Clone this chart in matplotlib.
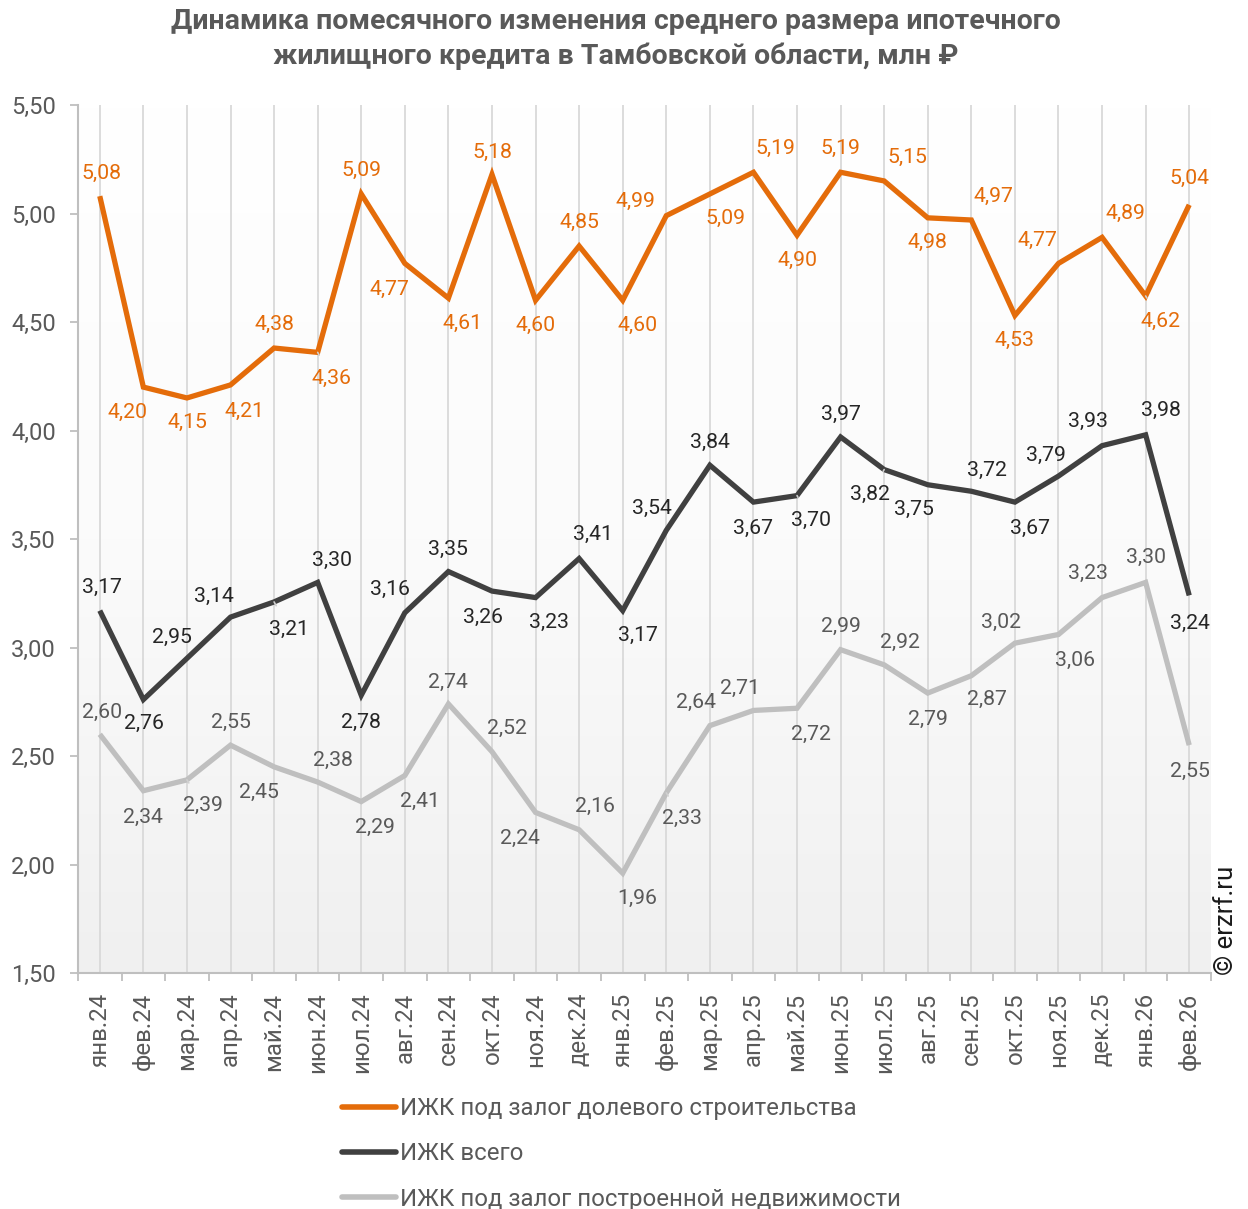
import matplotlib
matplotlib.use("Agg")
import matplotlib.pyplot as plt
import numpy as np
from matplotlib.colors import LinearSegmentedColormap

plt.rcParams['font.family'] = ['Roboto', 'DejaVu Sans']

months = ["янв.24", "фев.24", "мар.24", "апр.24", "май.24", "июн.24", "июл.24", "авг.24",
          "сен.24", "окт.24", "ноя.24", "дек.24", "янв.25", "фев.25", "мар.25", "апр.25",
          "май.25", "июн.25", "июл.25", "авг.25", "сен.25", "окт.25", "ноя.25", "дек.25",
          "янв.26", "фев.26"]

shared = [5.08, 4.20, 4.15, 4.21, 4.38, 4.36, 5.09, 4.77, 4.61, 5.18, 4.60, 4.85, 4.60,
          4.99, 5.09, 5.19, 4.90, 5.19, 5.15, 4.98, 4.97, 4.53, 4.77, 4.89, 4.62, 5.04]
total = [3.17, 2.76, 2.95, 3.14, 3.21, 3.30, 2.78, 3.16, 3.35, 3.26, 3.23, 3.41, 3.17,
         3.54, 3.84, 3.67, 3.70, 3.97, 3.82, 3.75, 3.72, 3.67, 3.79, 3.93, 3.98, 3.24]
built = [2.60, 2.34, 2.39, 2.55, 2.45, 2.38, 2.29, 2.41, 2.74, 2.52, 2.24, 2.16, 1.96,
         2.33, 2.64, 2.71, 2.72, 2.99, 2.92, 2.79, 2.87, 3.02, 3.06, 3.23, 3.30, 2.55]

names = ["ИЖК под залог долевого строительства", "ИЖК всего",
         "ИЖК под залог построенной недвижимости"]
yticks = [1.5, 2.0, 2.5, 3.0, 3.5, 4.0, 4.5, 5.0, 5.5]

# label offsets in pixels (dx right, dy down) and leader flags -- styling only
off_shared = [(2, -23), (-16, 25), (0, 24), (14, 26), (0, -24), (14, 26), (0, -24), (-15, 26),
              (14, 25), (0, -22), (0, 25), (0, -24), (15, 25), (-31, -14), (16, 24), (22, -24),
              (0, 25), (0, -24), (23, -24), (0, 25), (22, -24), (0, 25), (-21, -23), (23, -24),
              (15, 25), (0, -26)]
off_total = [(2, -23), (1, 24), (-15, -21), (-17, -21), (15, 27), (14, -22), (0, 27), (-15, -23),
             (0, -22), (-9, 26), (13, 25), (14, -24), (15, 25), (-14, -22), (0, -23), (0, 26),
             (14, 25), (0, -23), (-14, 25), (-14, 25), (16, -21), (15, 26), (-13, -21), (-14, -24),
             (15, -24), (1, 28)]
off_built = [(2, -22), (0, 27), (16, 26), (0, -23), (-15, 26), (15, -22), (14, 26), (15, 26),
             (0, -22), (15, -23), (-16, 26), (16, -23), (15, 25), (16, 26), (-14, -23), (-14, -22),
             (14, 26), (0, -23), (16, -22), (0, 26), (16, 24), (-14, -21), (17, 26), (-14, -24),
             (0, -25), (1, 26)]
lead_shared = {5, 24}
lead_total = {4, 16, 18}
lead_built = {2, 13}

c_orange = "#E46C0A"
c_dark = "#404040"
c_gray = "#BFBFBF"
txt_gray = "#595959"

fig = plt.figure(figsize=(12.48, 12.09), dpi=100)
ax = fig.add_axes([78 / 1248, 1 - 973 / 1209, (1211 - 78) / 1248, (973 - 105) / 1209])

n = len(months)
x = np.arange(n)
ax.set_xlim(-0.5, n - 0.5)
ax.set_ylim(1.5, 5.5)

# background gradient: white at top, light gray at bottom
cmap = LinearSegmentedColormap.from_list("bg", ["#ffffff", "#fbfbfb", "#f0f0f0"])
grad = np.linspace(0, 1, 256).reshape(-1, 1)
ax.imshow(grad, extent=[-0.5, n - 0.5, 1.5, 5.5], aspect='auto', cmap=cmap,
          vmin=0, vmax=1, zorder=0, origin='upper')

for xi in x:
    ax.axvline(xi, color="#d9d9d9", lw=1.3, zorder=1)

series = [(shared, c_orange, c_orange, off_shared, lead_shared),
          (total, c_dark, "#262626", off_total, lead_total),
          (built, c_gray, txt_gray, off_built, lead_built)]

for (vals, col, tcol, offs, leads), name in zip(series, names):
    ax.plot(x, vals, color=col, lw=3.8, solid_joinstyle='miter', zorder=3, label=name,
            solid_capstyle='butt')
    for i, v in enumerate(vals):
        dx, dy = offs[i]
        ap = None
        if i in leads:
            ap = dict(arrowstyle='-', color="#d0d0d0", lw=1.2, shrinkA=9, shrinkB=0)
        ax.annotate(f"{v:.2f}".replace(".", ","), xy=(i, v), xytext=(dx, -dy),
                    textcoords='offset pixels', ha='center', va='center',
                    fontsize=15.3, color=tcol, zorder=4, arrowprops=ap)

ax.set_yticks(yticks)
ax.set_yticklabels([f"{t:.2f}".replace(".", ",") for t in yticks], fontsize=17, color=txt_gray)
ax.set_xticks(x)
ax.set_xticklabels(months, rotation=90, fontsize=17.3, color=txt_gray, va='top')
ax.set_xticks(np.arange(-0.5, n, 1), minor=True)
ax.tick_params(axis='x', which='major', length=0, pad=14)
ax.tick_params(axis='x', which='minor', length=6, color="#bfbfbf", width=1.3)
ax.tick_params(axis='y', length=6, color="#bfbfbf", width=1.3, pad=10)

for s in ['top', 'right']:
    ax.spines[s].set_visible(False)
for s in ['left', 'bottom']:
    ax.spines[s].set_color("#bfbfbf")
    ax.spines[s].set_linewidth(1.5)

fig.text(616 / 1248, 1 - 39 / 1209,
         "Динамика помесячного изменения среднего размера ипотечного\n"
         "жилищного кредита в Тамбовской области, млн ₽",
         ha='center', va='center', fontsize=20.5, fontweight='bold', color=txt_gray,
         linespacing=1.32)

fig.text(1226 / 1248, 1 - 920 / 1209, "© erzrf.ru", rotation=90, ha='center', va='center',
         fontsize=18.5, color="#1a1a1a")

leg = fig.legend(loc='upper left', bbox_to_anchor=(342 / 1248, 1 - 1097 / 1209),
                 frameon=False, fontsize=17.3, handlelength=2.25, handletextpad=0.17,
                 labelspacing=0.93, labelcolor=txt_gray, borderaxespad=0, borderpad=0)
for line in leg.get_lines():
    line.set_linewidth(4.0)
    line.set_solid_capstyle('round')

fig.savefig("out.png", dpi=100)
